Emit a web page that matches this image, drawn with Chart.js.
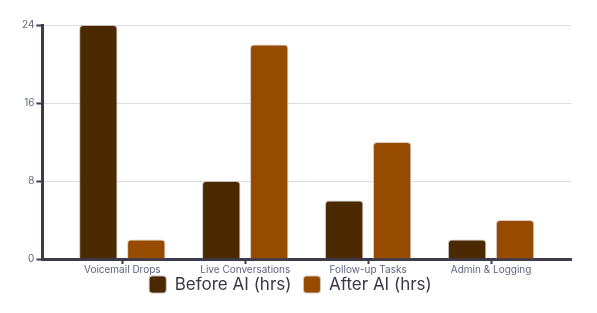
<!DOCTYPE html>
<html>
<head>
<meta charset="utf-8">
<script src="https://cdn.jsdelivr.net/npm/chart.js@4"></script>
<style>
  html, body { margin: 0; padding: 0; background: #fff; }
  #wrap { width: 597px; height: 313px; }
</style>
</head>
<body>
<div id="wrap"><canvas id="timeChart"></canvas></div>
<script>
// Hours spent per task, before and after AI
const categories = ["Voicemail Drops", "Live Conversations", "Follow-up Tasks", "Admin & Logging"];
const beforeHours = [24, 8, 6, 2];
const afterHours = [2, 22, 12, 4];
const yTicks = [0, 8, 16, 24];

const axisColor = "#3d3a4b";
const tickLabelColor = "#5e6380";

// widen the empty space at both ends of the category axis,
// and let the x labels spill below the (shrunk) axis box
const edgePadPlugin = {
  id: "edgePad",
  afterLayout(chart) {
    const x = chart.scales.x;
    x._startValue -= 0.15;
    x._valueRange += 0.3;
    x.bottom += 14;
  },
};

new Chart(document.getElementById("timeChart"), {
  type: "bar",
  data: {
    labels: categories,
    datasets: [
      {
        label: "Before AI (hrs)",
        data: beforeHours,
        backgroundColor: "#4a2800",
        borderColor: "rgba(190, 185, 185, 0.9)",
        borderWidth: 1,
        borderRadius: 4,
        borderSkipped: "bottom",
      },
      {
        label: "After AI (hrs)",
        data: afterHours,
        backgroundColor: "#964b00",
        borderColor: "rgba(210, 200, 195, 0.9)",
        borderWidth: 1,
        borderRadius: 4,
        borderSkipped: "bottom",
      },
    ],
  },
  plugins: [edgePadPlugin],
  options: {
    responsive: true,
    maintainAspectRatio: false,
    animation: false,
    layout: { padding: { top: 25, right: 26, left: 10, bottom: 10 } },
    categoryPercentage: 0.78,
    barPercentage: 0.8,
    scales: {
      x: {
        afterFit: (scale) => {
          scale.height -= 12;
        },
        grid: {
          offset: false,
          drawOnChartArea: false,
          tickColor: axisColor,
          tickLength: 5,
          tickWidth: 2,
        },
        border: { color: axisColor, width: 3 },
        ticks: {
          autoSkip: false,
          maxRotation: 0,
          padding: 0,
          color: tickLabelColor,
          font: { family: "Inter", size: 10 },
        },
      },
      y: {
        min: 0,
        max: 24,
        afterFit: (scale) => {
          scale.width += 10;
        },
        afterBuildTicks: (scale) => {
          scale.ticks = yTicks.map((v) => ({ value: v }));
        },
        grid: {
          color: "#dcdcdc",
          lineWidth: 1,
          tickColor: axisColor,
          tickLength: 6,
          tickWidth: 2,
        },
        border: { color: axisColor, width: 3 },
        ticks: {
          padding: 2,
          color: tickLabelColor,
          font: { family: "Inter", size: 10 },
        },
      },
    },
    plugins: {
      legend: {
        position: "bottom",
        labels: {
          boxWidth: 17,
          boxHeight: 17,
          useBorderRadius: true,
          borderRadius: 3,
          padding: 12,
          color: "#3a3848",
          font: { family: "Inter", size: 17 },
        },
      },
      tooltip: { enabled: false },
    },
  },
});
</script>
</body>
</html>
